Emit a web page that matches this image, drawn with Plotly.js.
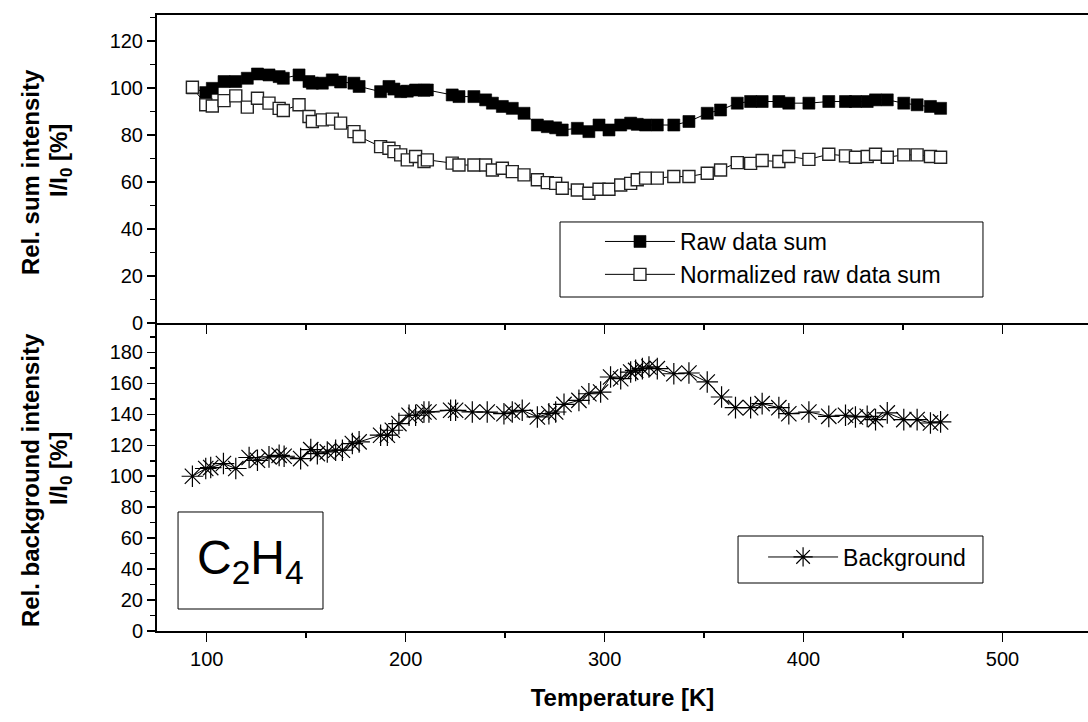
<!DOCTYPE html>
<html>
<head>
<meta charset="utf-8">
<script src="https://cdn.plot.ly/plotly-3.0.1.min.js"></script>
<style>
  html, body { margin: 0; padding: 0; background: #ffffff; }
  #chart { width: 1088px; height: 722px; }
</style>
</head>
<body>
<div id="chart"></div>
<script>
// ---- Data ----
const temperature = [92.8, 99.5, 102.8, 108.7, 114.6, 120.4, 125.5, 131.3, 136.4, 138.5,
  146.4, 151.4, 153.1, 158.1, 163.1, 167.3, 174.0, 176.6, 187.4, 191.6,
  194.1, 197.5, 200.8, 205.0, 209.2, 210.9, 223.4, 226.8, 234.3, 240.2,
  243.6, 248.6, 253.6, 259.5, 266.2, 271.2, 275.4, 278.7, 286.3, 292.1,
  297.2, 302.2, 308.1, 313.1, 316.4, 320.6, 326.5, 334.8, 342.4, 351.6,
  358.3, 366.7, 373.4, 379.2, 387.6, 392.6, 402.7, 412.7, 421.1, 426.1,
  432.0, 436.2, 442.1, 450.4, 457.1, 463.8, 468.9];

const rawDataSum = [100, 98.0, 99.8, 102.7, 102.7, 104.1, 105.9, 105.5, 104.8, 104.1,
  105.5, 102.7, 102.0, 102.0, 103.4, 102.5, 102.0, 100.6, 98.4, 100.6,
  99.5, 98.4, 98.6, 99.1, 99.0, 99.1, 97.0, 96.3, 96.3, 94.9,
  93.5, 92.1, 91.3, 89.2, 84.2, 83.5, 83.0, 82.1, 82.8, 81.4,
  84.2, 82.1, 84.2, 85.0, 84.5, 84.2, 84.2, 84.2, 85.7, 89.2,
  90.6, 93.5, 94.2, 94.2, 94.2, 93.5, 93.5, 94.2, 94.2, 94.2,
  94.2, 94.9, 94.9, 93.5, 92.8, 92.1, 91.3];

const normalizedSum = [100.3, 92.8, 92.3, 94.6, 96.6, 91.8, 95.6, 93.5, 91.3, 90.4,
  92.8, 87.8, 85.7, 86.4, 86.7, 85.0, 81.4, 79.3, 75.0, 74.3,
  72.9, 71.5, 69.4, 70.8, 68.7, 69.4, 68.0, 67.2, 67.2, 67.2,
  65.1, 65.8, 64.4, 63.0, 60.9, 59.7, 59.4, 57.3, 56.6, 55.2,
  56.9, 56.9, 58.7, 59.4, 60.9, 61.6, 61.6, 62.3, 62.3, 63.7,
  65.1, 68.2, 67.9, 69.1, 68.7, 70.8, 69.6, 71.8, 71.1, 70.5,
  70.8, 71.8, 70.5, 71.5, 71.5, 70.8, 70.5];

const temperatureBg = [92.8, 99.5, 102.0, 108.4, 114.6, 121.3, 125.5, 131.3, 136.4, 138.9,
  147.2, 152.3, 155.6, 160.6, 164.8, 168.2, 173.2, 176.6, 187.4, 190.8,
  193.3, 196.6, 201.7, 205.0, 209.2, 211.7, 222.6, 225.1, 233.5, 241.0,
  249.4, 253.6, 258.6, 266.2, 272.0, 275.4, 279.6, 287.1, 292.1, 298.0,
  303.0, 308.1, 313.1, 315.6, 319.0, 322.3, 326.5, 334.8, 342.4, 351.6,
  358.8, 365.8, 373.4, 379.2, 387.6, 392.6, 402.7, 412.7, 421.1, 426.1,
  432.0, 436.2, 442.1, 450.4, 457.1, 463.8, 468.9];

const background = [100, 105.0, 105.6, 108.2, 105.0, 112.1, 110.3, 112.5, 113.5, 112.9,
  111.4, 117.2, 114.6, 115.7, 116.8, 116.8, 121.1, 122.2, 126.5, 126.5,
  129.7, 134.0, 139.4, 139.4, 141.5, 141.5, 142.6, 142.6, 141.5, 141.5,
  140.4, 141.5, 142.6, 138.3, 140.4, 141.5, 146.4, 149.0, 153.3, 154.4,
  164.1, 163.0, 167.3, 168.4, 169.5, 170.6, 169.5, 166.2, 166.7, 160.9,
  151.2, 144.3, 144.3, 146.9, 144.3, 140.4, 141.5, 138.7, 139.4, 138.3,
  138.7, 136.6, 140.9, 136.6, 136.6, 134.4, 135.1];

const seriesNames = ["Raw data sum", "Normalized raw data sum", "Background"];
const xTickVals = [100, 200, 300, 400, 500];
const topYTicks = [0, 20, 40, 60, 80, 100, 120];
const bottomYTicks = [0, 20, 40, 60, 80, 100, 120, 140, 160, 180];

// ---- Styling ----
const FONT = "'Liberation Sans', Arial, Helvetica, sans-serif";
const minorTicks = (d) => ({dtick: d, tick0: 0, ticklen: 5, ticks: 'outside', tickcolor: '#000000', tickwidth: 1.5});

const traces = [
  {
    x: temperature, y: rawDataSum, name: seriesNames[0],
    type: 'scatter', mode: 'lines+markers', xaxis: 'x', yaxis: 'y', legend: 'legend',
    line: {color: '#000000', width: 1},
    marker: {symbol: 'square', size: 12, color: '#000000', line: {color: '#000000', width: 0.6}}
  },
  {
    x: temperature, y: normalizedSum, name: seriesNames[1],
    type: 'scatter', mode: 'lines+markers', xaxis: 'x', yaxis: 'y', legend: 'legend',
    line: {color: '#000000', width: 1},
    marker: {symbol: 'square', size: 12, color: '#ffffff', line: {color: '#222222', width: 1.4}}
  },
  {
    x: temperatureBg, y: background, name: seriesNames[2],
    type: 'scatter', mode: 'lines+markers', xaxis: 'x2', yaxis: 'y2', legend: 'legend2',
    line: {color: '#000000', width: 1},
    marker: {symbol: 'asterisk-open', size: 18, color: '#000000', line: {color: '#000000', width: 1.2}}
  }
];

const axisCommon = {
  showgrid: false, zeroline: false, showline: true, linecolor: '#000000', linewidth: 2,
  ticks: 'outside', tickcolor: '#000000', tickwidth: 1.5,
  tickfont: {family: FONT, size: 20, color: '#000000'}
};

const layout = {
  width: 1088, height: 722,
  margin: {l: 157, r: 0, t: 15, b: 91, pad: 0},
  paper_bgcolor: '#ffffff', plot_bgcolor: '#ffffff',
  font: {family: FONT, color: '#000000'},
  showlegend: true,
  xaxis: Object.assign({}, axisCommon, {
    anchor: 'y', domain: [0, 1], range: [75, 543], matches: 'x2',
    tickvals: xTickVals, showticklabels: false, ticklen: 9, mirror: true,
    minor: minorTicks(50)
  }),
  xaxis2: Object.assign({}, axisCommon, {
    anchor: 'y2', domain: [0, 1], range: [75, 543],
    tickvals: xTickVals, ticklen: 9,
    minor: minorTicks(50),
    title: {text: '<b>Temperature [K]</b>', font: {family: FONT, size: 24, color: '#000000'}, standoff: 20}
  }),
  yaxis: Object.assign({}, axisCommon, {
    anchor: 'x', domain: [0.5, 1], range: [0, 131],
    tickvals: topYTicks, ticklen: 8,
    minor: minorTicks(10)
  }),
  yaxis2: Object.assign({}, axisCommon, {
    anchor: 'x2', domain: [0, 0.5], range: [0, 199],
    tickvals: bottomYTicks, ticklen: 8,
    minor: minorTicks(10)
  }),
  legend: {
    x: 0.4758, y: 0.6672, xanchor: 'left', yanchor: 'top',
    bgcolor: 'rgba(0,0,0,0)', borderwidth: 0,
    font: {family: FONT, size: 23, color: '#000000'},
    itemwidth: 70, tracegroupgap: 0, itemclick: false
  },
  legend2: {
    x: 0.651, y: 0.155, xanchor: 'left', yanchor: 'top',
    bgcolor: 'rgba(0,0,0,0)', borderwidth: 0,
    font: {family: FONT, size: 23, color: '#000000'},
    itemwidth: 70, itemclick: false
  },
  shapes: [
    // C2H4 label box
    {type: 'rect', xref: 'paper', yref: 'paper', layer: 'above',
     x0: 0.0226, x1: 0.1783, y0: 0.0357, y1: 0.1932,
     line: {color: '#000000', width: 1}, fillcolor: 'rgba(0,0,0,0)'},
    // top legend frame
    {type: 'rect', xref: 'paper', yref: 'paper', layer: 'below',
     x0: 0.4329, x1: 0.8872, y0: 0.5422, y1: 0.664,
     line: {color: '#000000', width: 1}, fillcolor: 'rgba(0,0,0,0)'},
    // bottom legend frame
    {type: 'rect', xref: 'paper', yref: 'paper', layer: 'below',
     x0: 0.6241, x1: 0.8872, y0: 0.0779, y1: 0.1542,
     line: {color: '#000000', width: 1}, fillcolor: 'rgba(0,0,0,0)'}
  ],
  annotations: [
    {xref: 'paper', yref: 'paper', x: 0.1004, y: 0.1144, xanchor: 'center', yanchor: 'middle',
     text: 'C<sub>2</sub>H<sub>4</sub>', showarrow: false,
     font: {family: FONT, size: 48, color: '#000000'}},
    {xref: 'paper', yref: 'paper', x: -0.1364, y: 0.745, xanchor: 'center', yanchor: 'middle',
     text: '<b>Rel. sum intensity</b>', textangle: -90, showarrow: false,
     font: {family: FONT, size: 24, color: '#000000'}},
    {xref: 'paper', yref: 'paper', x: -0.1042, y: 0.7646, xanchor: 'center', yanchor: 'middle',
     text: '<b>I/I<sub>0</sub> [%]</b>', textangle: -90, showarrow: false,
     font: {family: FONT, size: 24, color: '#000000'}},
    {xref: 'paper', yref: 'paper', x: -0.1364, y: 0.245, xanchor: 'center', yanchor: 'middle',
     text: '<b>Rel. background intensity</b>', textangle: -90, showarrow: false,
     font: {family: FONT, size: 24, color: '#000000'}},
    {xref: 'paper', yref: 'paper', x: -0.1042, y: 0.2646, xanchor: 'center', yanchor: 'middle',
     text: '<b>I/I<sub>0</sub> [%]</b>', textangle: -90, showarrow: false,
     font: {family: FONT, size: 24, color: '#000000'}}
  ]
};

Plotly.newPlot('chart', traces, layout, {displayModeBar: false, staticPlot: true});
</script>
</body>
</html>
